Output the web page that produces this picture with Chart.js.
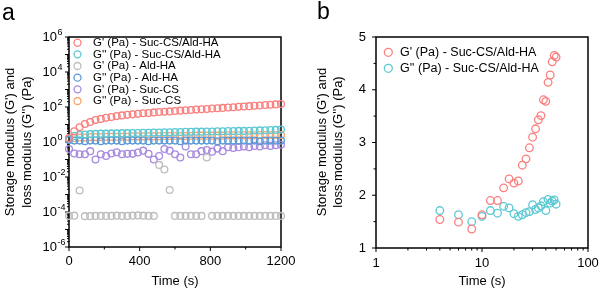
<!DOCTYPE html>
<html>
<head>
<meta charset="utf-8">
<script src="https://cdn.jsdelivr.net/npm/chart.js@4.4.1/dist/chart.umd.min.js"></script>
<style>
  html, body { margin: 0; padding: 0; background: #fff; }
  #wrap { display: flex; width: 600px; height: 292px; }
  canvas { display: block; }
</style>
</head>
<body>
<div id="wrap">
  <canvas id="chartA" width="300" height="292"></canvas>
  <canvas id="chartB" width="300" height="292"></canvas>
</div>
<script>
// ---- panel a data (time sweep, log modulus) ----
const timeA = [0,30,60,90,120,150,180,210,240,270,300,330,360,390,420,450,480,510,540,570,600,
               630,660,690,720,750,780,810,840,870,900,930,960,990,1020,1050,1080,1110,1140,1170,1200];
const gpSucAld = [1.7,4.1,6.9,10.7,13.8,17.8,20.9,24,26.9,30.2,33.1,35.5,38,40.7,43.7,45.7,49,51.3,53.7,56.2,
                  58.9,61.7,64.6,67.6,70.8,74.1,77.6,81.3,85.1,89.1,93.3,97.7,102,107,112,117,123,129,135,141,148];
const gppSucAld = [1.6,2.2,2.5,2.7,2.8,2.9,3.0,3.0,3.1,3.1,3.2,3.2,3.3,3.3,3.4,3.4,3.5,3.5,3.6,3.6,
                   3.7,3.7,3.8,3.8,3.9,3.9,4.0,4.0,4.1,4.1,4.2,4.2,4.3,4.3,4.4,4.5,4.6,4.7,4.8,4.9,5.1];
const gpAld = [6e-5,6.2e-5,1.7e-3,5.8e-5,5.8e-5,6e-5,6e-5,6e-5,6e-5,6.2e-5,6e-5,6e-5,6.2e-5,6.4e-5,6.2e-5,6e-5,6e-5,
               0.049,0.027,1.8e-3,6e-5,6e-5,6e-5,6e-5,6e-5,6e-5,0.13,
               6e-5,6e-5,6e-5,6e-5,6e-5,6e-5,6e-5,6e-5,6e-5,6e-5,6e-5,6e-5,6e-5,6e-5];
const gppAld = [1.3,1.2,1.2,1.1,1.2,1.2,1.1,1.2,1.2,1.2,1.1,1.2,1.2,1.2,1.2,1.1,1.2,1.2,1.2,1.2,
                1.2,1.1,1.2,1.2,1.2,1.2,1.2,1.2,1.1,1.2,1.2,1.2,1.2,1.2,1.2,1.2,1.1,1.2,1.2,1.2,1.2];
const gpSuc = [0.4,0.22,0.2,0.2,0.3,0.1,0.2,0.16,0.22,0.26,0.2,0.21,0.21,0.25,0.32,0.21,0.1,0.16,0.4,0.32,
               0.2,0.13,0.55,0.2,0.2,0.3,0.35,0.28,0.42,0.3,0.5,0.45,0.5,0.55,0.5,0.6,0.55,0.65,0.6,0.65,0.7];
const gppSuc = [1.5,1.7,1.8,1.8,1.9,1.9,1.9,2.0,2.0,2.0,2.0,2.0,2.1,2.1,2.1,2.1,2.1,2.1,2.2,2.2,
                2.2,2.2,2.2,2.2,2.3,2.3,2.3,2.3,2.3,2.3,2.4,2.4,2.4,2.4,2.4,2.4,2.5,2.5,2.5,2.5,2.5];
const seriesNamesA = ["G' (Pa) - Suc-CS/Ald-HA", "G'' (Pa) - Suc-CS/Ald-HA", "G' (Pa) - Ald-HA",
                      "G'' (Pa) - Ald-HA", "G' (Pa) - Suc-CS", "G'' (Pa) - Suc-CS"];
const xTicksA = [0, 400, 800, 1200];
const xMinorA = [200, 600, 1000];
const yDecadesA = [-6,-5,-4,-3,-2,-1,0,1,2,3,4,5,6];
const yLabelExpA = [-6, -4, -2, 0, 2, 4, 6];

// ---- panel b data (log time, linear modulus) ----
const timeB = [4,6,8,10,12,14,16,18,20,22,24,26,28,30,32,34,36,38,40,42,44,46,48,50];
const gpB = [1.54,1.49,1.36,1.63,1.9,1.9,2.14,2.31,2.23,2.27,2.57,2.69,2.9,3.1,3.26,3.43,3.51,3.81,3.78,4.14,4.28,4.53,4.65,4.62];
const gppB = [1.71,1.63,1.5,1.6,1.71,1.66,1.79,1.76,1.65,1.6,1.63,1.67,1.69,1.82,1.73,1.76,1.8,1.88,1.71,1.92,1.85,1.89,1.91,1.83];
const seriesNamesB = ["G' (Pa) - Suc-CS/Ald-HA", "G'' (Pa) - Suc-CS/Ald-HA"];
const xDecadesB = [1, 10, 100];
const yTicksB = [1, 2, 3, 4, 5];
const yMinorB = [1.5, 2.5, 3.5, 4.5];

const FONT = "'Liberation Sans', Arial, sans-serif";
const colorsA = ['#FA7F7E', '#5CC8D3', '#BDBDBD', '#5A99D7', '#A88ADF', '#F6A56C'];

function pts(xs, ys) { return xs.map((x, i) => ({ x: x, y: ys[i] })); }

function ds(label, data, color, r) {
    return {
        label: label, data: data,
        borderColor: color, pointBorderColor: color,
        pointBackgroundColor: 'rgba(0,0,0,0)',
        pointRadius: r, pointHoverRadius: r, pointBorderWidth: 1.3,
        showLine: false, clip: false
    };
}

function frame(chart) {
    const { ctx, chartArea: a } = chart;
    ctx.save();
    ctx.strokeStyle = '#000';
    ctx.lineWidth = 1.5;
    ctx.strokeRect(a.left, a.top, a.right - a.left, a.bottom - a.top);
    ctx.restore();
}

function tickX(ctx, px, y0, len) { ctx.moveTo(px, y0); ctx.lineTo(px, y0 + len); }
function tickY(ctx, py, x0, len) { ctx.moveTo(x0, py); ctx.lineTo(x0 - len, py); }

function yTitle(ctx, lines, xs, yc) {
    ctx.save();
    ctx.fillStyle = '#000';
    ctx.font = '13px ' + FONT;
    ctx.textAlign = 'center';
    ctx.textBaseline = 'middle';
    lines.forEach((t, i) => {
        ctx.save();
        ctx.translate(xs[i], yc);
        ctx.rotate(-Math.PI / 2);
        ctx.fillText(t, 0, 0);
        ctx.restore();
    });
    ctx.restore();
}

function legendBox(ctx, names, colors, mx, tx, y0, dy, r, size) {
    ctx.save();
    ctx.font = size + 'px ' + FONT;
    ctx.textAlign = 'left';
    ctx.textBaseline = 'middle';
    names.forEach((n, i) => {
        const y = y0 + i * dy;
        ctx.beginPath();
        ctx.strokeStyle = colors[i];
        ctx.lineWidth = 1.3;
        ctx.arc(mx, y, r, 0, Math.PI * 2);
        ctx.stroke();
        ctx.fillStyle = '#000';
        ctx.fillText(n, tx, y);
    });
    ctx.restore();
}

// --- panel a extras: frame, ticks, power-of-ten labels, legend ---
const panelA = {
    id: 'panelA',
    beforeDatasetsDraw(chart) {
        const { ctx, chartArea: a, scales: { x, y } } = chart;
        frame(chart);
        ctx.save();
        ctx.strokeStyle = '#000';
        ctx.lineWidth = 1;
        ctx.beginPath();
        xTicksA.forEach(v => tickX(ctx, x.getPixelForValue(v), a.bottom, 4));
        xMinorA.forEach(v => tickX(ctx, x.getPixelForValue(v), a.bottom, 2.5));
        yDecadesA.forEach(d => {
            tickY(ctx, y.getPixelForValue(Math.pow(10, d)), a.left, 4);
            if (d < 6) {
                for (let k = 2; k <= 9; k++) tickY(ctx, y.getPixelForValue(k * Math.pow(10, d)), a.left, 2);
            }
        });
        ctx.stroke();
        ctx.restore();
    },
    afterDraw(chart) {
        const { ctx, chartArea: a, scales: { x, y } } = chart;
        ctx.save();
        ctx.fillStyle = '#000';
        ctx.font = '13px ' + FONT;
        ctx.textAlign = 'center';
        ctx.textBaseline = 'middle';
        xTicksA.forEach(v => ctx.fillText(String(v), x.getPixelForValue(v), 261));
        ctx.fillText('Time (s)', (a.left + a.right) / 2, 281);
        yLabelExpA.forEach(e => {
            const py = y.getPixelForValue(Math.pow(10, e));
            ctx.font = '13px ' + FONT;
            ctx.textAlign = 'right';
            ctx.fillText('10', 57, py + 0.5);
            ctx.font = '9px ' + FONT;
            ctx.textAlign = 'left';
            ctx.fillText(String(e), 57.5, py - 4);
        });
        ctx.font = '23px ' + FONT;
        ctx.textAlign = 'left';
        ctx.textBaseline = 'alphabetic';
        ctx.fillText('a', 2, 20);
        ctx.restore();
        yTitle(ctx, ["Storage modulus (G') and", "loss modulus (G'') (Pa)"], [10, 27], 142);
        legendBox(ctx, seriesNamesA, colorsA, 77.5, 93, 42.7, 11.66, 3.5, 11.5);
    }
};

const panelB = {
    id: 'panelB',
    beforeDatasetsDraw(chart) {
        const { ctx, chartArea: a, scales: { x, y } } = chart;
        frame(chart);
        ctx.save();
        ctx.strokeStyle = '#000';
        ctx.lineWidth = 1;
        ctx.beginPath();
        xDecadesB.forEach(d => {
            tickX(ctx, x.getPixelForValue(d), a.bottom, 4);
            if (d < 100) {
                for (let k = 2; k <= 9; k++) tickX(ctx, x.getPixelForValue(k * d), a.bottom, 2.5);
            }
        });
        yTicksB.forEach(v => tickY(ctx, y.getPixelForValue(v), a.left, 4));
        yMinorB.forEach(v => tickY(ctx, y.getPixelForValue(v), a.left, 2.5));
        ctx.stroke();
        ctx.restore();
    },
    afterDraw(chart) {
        const { ctx, chartArea: a, scales: { x, y } } = chart;
        ctx.save();
        ctx.fillStyle = '#000';
        ctx.font = '13px ' + FONT;
        ctx.textAlign = 'center';
        ctx.textBaseline = 'middle';
        xDecadesB.forEach(v => ctx.fillText(String(v), x.getPixelForValue(v), 263));
        ctx.fillText('Time (s)', (a.left + a.right) / 2, 281.5);
        ctx.textAlign = 'right';
        yTicksB.forEach(v => ctx.fillText(String(v), 66, y.getPixelForValue(v)));
        ctx.font = '23px ' + FONT;
        ctx.textAlign = 'left';
        ctx.textBaseline = 'alphabetic';
        ctx.fillText('b', 17, 19);
        ctx.restore();
        yTitle(ctx, ["Storage modulus (G') and", "loss modulus (G'') (Pa)"], [22, 38], 142);
        legendBox(ctx, seriesNamesB, colorsA.slice(0, 2), 88.3, 100, 52.3, 16, 4, 12.5);
    }
};

const hiddenScale = (extra, fitFn) => Object.assign({
    ticks: { display: false },
    grid: { display: false },
    border: { display: false },
    afterFit: fitFn
}, extra);

new Chart(document.getElementById('chartA'), {
    type: 'scatter',
    data: {
        datasets: [
            ds(seriesNamesA[0], pts(timeA, gpSucAld), colorsA[0], 3.4),
            ds(seriesNamesA[1], pts(timeA, gppSucAld), colorsA[1], 3.4),
            ds(seriesNamesA[2], pts(timeA, gpAld), colorsA[2], 3.4),
            ds(seriesNamesA[3], pts(timeA, gppAld), colorsA[3], 3.4),
            ds(seriesNamesA[4], pts(timeA, gpSuc), colorsA[4], 3.4),
            ds(seriesNamesA[5], pts(timeA, gppSuc), colorsA[5], 3.4)
        ]
    },
    options: {
        responsive: false,
        animation: false,
        layout: { padding: { left: 0, top: 37, right: 19, bottom: 0 } },
        scales: {
            x: hiddenScale({ type: 'linear', min: 0, max: 1200 }, s => { s.height = 45; }),
            y: hiddenScale({ type: 'logarithmic', min: 1e-6, max: 1e6 }, s => { s.width = 69; })
        },
        plugins: { legend: { display: false }, tooltip: { enabled: false } }
    },
    plugins: [panelA]
});

new Chart(document.getElementById('chartB'), {
    type: 'scatter',
    data: {
        datasets: [
            ds(seriesNamesB[0], pts(timeB, gpB), colorsA[0], 3.8),
            ds(seriesNamesB[1], pts(timeB, gppB), colorsA[1], 3.8)
        ]
    },
    options: {
        responsive: false,
        animation: false,
        layout: { padding: { left: 0, top: 37, right: 12, bottom: 0 } },
        scales: {
            x: hiddenScale({ type: 'logarithmic', min: 1, max: 100 }, s => { s.height = 44; }),
            y: hiddenScale({ type: 'linear', min: 1, max: 5 }, s => { s.width = 76; })
        },
        plugins: { legend: { display: false }, tooltip: { enabled: false } }
    },
    plugins: [panelB]
});
</script>
</body>
</html>
